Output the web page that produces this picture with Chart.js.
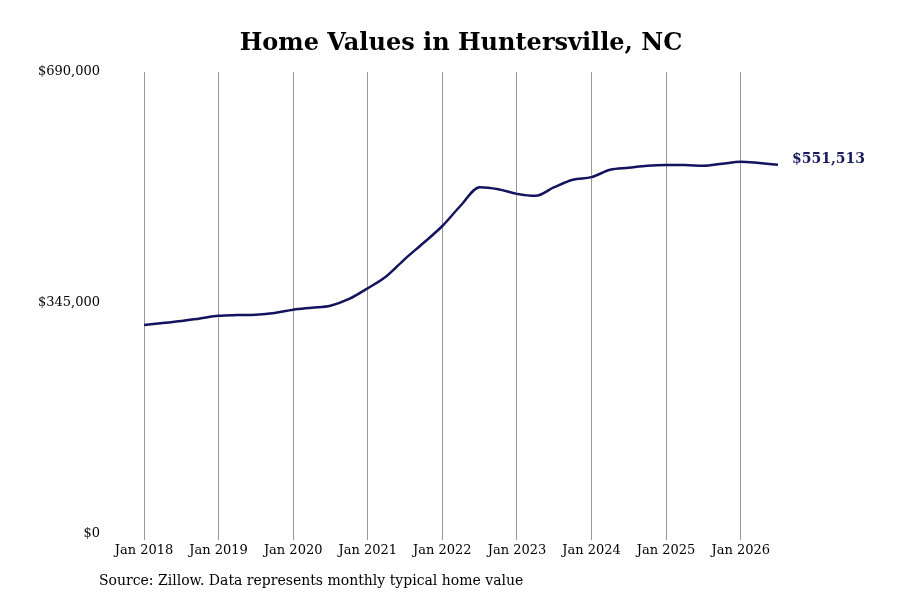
<!DOCTYPE html>
<html><head><script src="https://cdn.jsdelivr.net/npm/chart.js@4"></script>
<style>body{margin:0;background:#fff}</style></head>
<body><canvas id="c" width="900" height="600"></canvas>
<script>
const monthIdx=[0,3,6,9,12,15,18,21,24,27,30,33,36,39,42,45,48,51,54,57,60,63,66,69,72,75,78,81,84,87,90,93,96,99,102];
const values=[312000,315000,318000,322000,326000,327000,327500,330000,335000,338000,341000,351000,367000,385000,411000,435000,460000,491000,518000,515000,508000,505000,518000,529000,533000,544000,547000,550000,551000,551000,550000,553000,556000,554000,551513];
const yTicks=[0,345000,690000];
const xTickLabels=['Jan 2018','Jan 2019','Jan 2020','Jan 2021','Jan 2022','Jan 2023','Jan 2024','Jan 2025','Jan 2026'];
const F='"DejaVu Serif", serif';
const deco={id:'deco',afterDraw(ch){const c=ch.ctx;c.save();
c.fillStyle='#000';c.textAlign='center';c.textBaseline='middle';c.font='bold 24px '+F;c.fillText('Home Values in Huntersville, NC',461,44);
c.textAlign='left';c.font='14px '+F;c.fillText('Source: Zillow. Data represents monthly typical home value',99,581);
const m=ch.getDatasetMeta(0).data;const p=m[m.length-1];
c.fillStyle='#1a1a5e';c.font='bold 14px '+F;c.fillText('$'+values[values.length-1].toLocaleString('en-US'),p.x+14,p.y-5);c.restore();}};
new Chart(document.getElementById('c'),{type:'line',
data:{datasets:[{data:monthIdx.map((m,i)=>({x:m,y:values[i]})),borderColor:'#13135e',borderWidth:2.5,pointRadius:0,tension:0.4,cubicInterpolationMode:'monotone'}]},
options:{responsive:false,animation:false,layout:{padding:{top:72,right:122,left:0,bottom:0}},
plugins:{legend:{display:false},tooltip:{enabled:false}},
scales:{x:{type:'linear',min:0,max:102,afterFit(s){s.height=66},
afterBuildTicks(s){s.ticks=xTickLabels.map((l,i)=>({value:i*12}))},
ticks:{autoSkip:false,maxRotation:0,color:'#000',font:{family:F,size:13},callback:(v)=>xTickLabels[v/12]},
grid:{color:'#999',drawTicks:true,tickLength:6},border:{display:false}},
y:{min:0,max:690000,afterFit(s){s.width=144},afterBuildTicks(s){s.ticks=yTicks.map(v=>({value:v}))},
ticks:{color:'#000',font:{family:F,size:13},padding:36,callback:v=>'$'+v.toLocaleString('en-US')},
grid:{display:false},border:{display:false}}}},plugins:[deco]});
</script></body></html>
